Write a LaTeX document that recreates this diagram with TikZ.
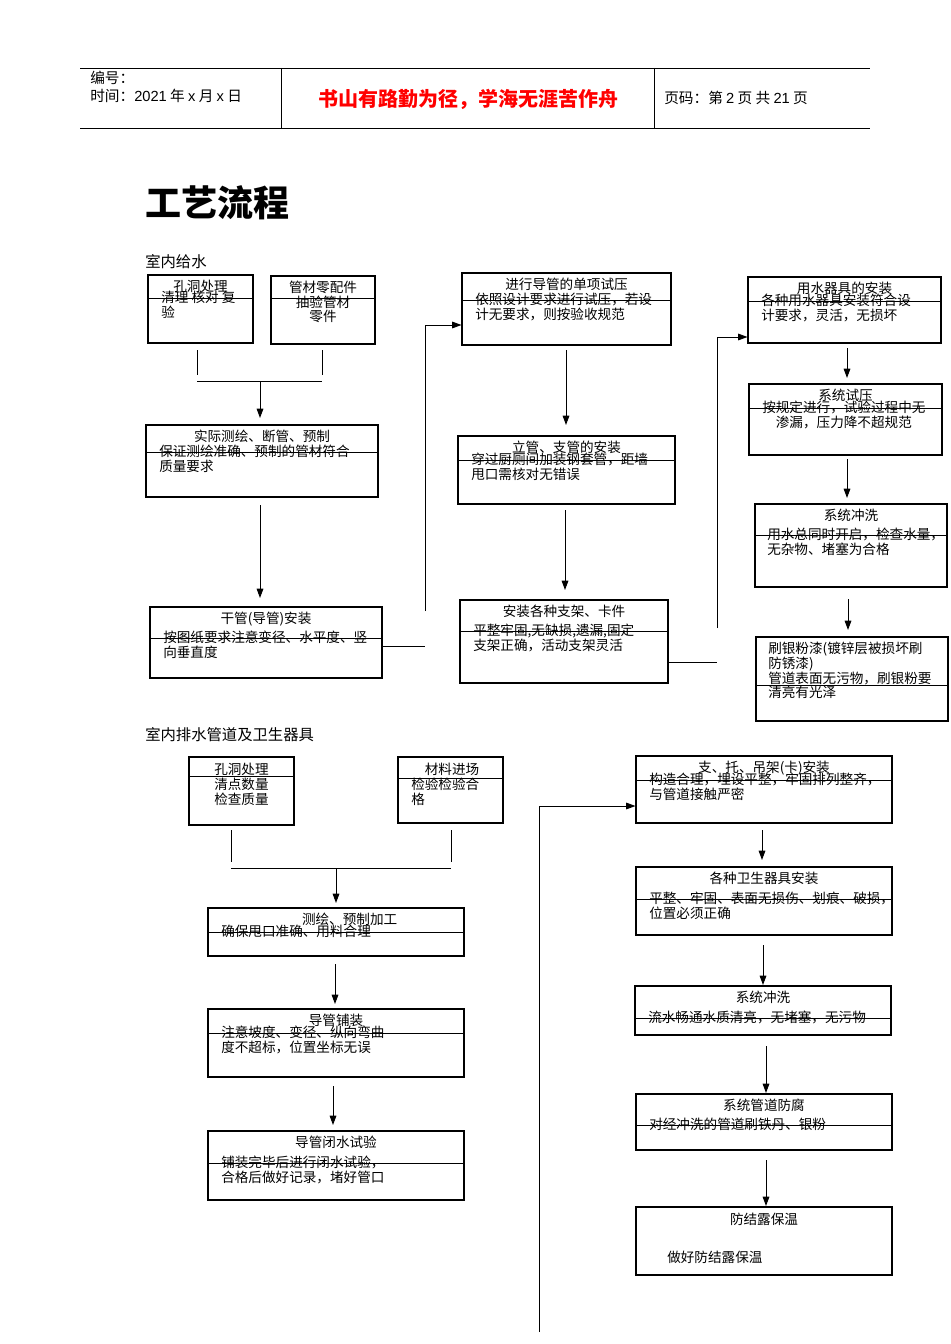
\documentclass[tikz,border=0pt]{standalone}
\usepackage{fontspec}
\setmainfont{Noto Sans CJK SC}
\newfontfamily\hdfont{Liberation Sans}
\usetikzlibrary{fit,arrows.meta}
\tikzset{
  boxst/.style={draw,line width=0.8pt,inner sep=0pt},
  txt/.style={inner sep=0pt,font=\fontsize{10.2}{11}\selectfont,align=left},
  arr/.style={-{Triangle[length=7pt,width=5pt]},line width=0.7pt},
  ln/.style={line width=0.7pt}
}
\newcommand\mybox[9]{%
  \node[boxst,fit={(#2,#3)(#4,#5)}] (#1) {};
  \draw[ln] (#2,#6) -- (#4,#6);
  \node[txt,anchor=north] at (#1.north) [yshift=-4pt] {#7};
  \node[txt,anchor=north west] at (#8,#6-7) {#9};
}
\begin{document}
\begin{tikzpicture}[x=0.75pt,y=-0.75pt]
\useasboundingbox (0,0) rectangle (950,1344);
% header
\draw[ln] (80,68) -- (870,68);
\draw[ln] (80,128) -- (870,128);
\draw[ln] (281,68) -- (281,128);
\draw[ln] (654,68) -- (654,128);
\node[txt,anchor=west,font=\fontsize{11}{12}\selectfont] (h1) at (90,78) {编号：};
\node[txt,anchor=west,font=\fontsize{11}{12}\selectfont] (h2) at (90,96) {时间：{\hdfont 2021} 年 {\hdfont x} 月 {\hdfont x} 日};
\node[txt,text=red,font=\fontsize{15}{16}\selectfont\bfseries] (h3) at (468,99) {书山有路勤为径，学海无涯苦作舟};
\node[txt,anchor=west,font=\fontsize{11}{12}\selectfont] (h4) at (664,98) {页码：第 {\hdfont 2} 页 共 {\hdfont 21} 页};
\node[txt,anchor=west,font=\fontsize{27}{30}\selectfont\bfseries] (t) at (145,203) {工艺流程};
\node[txt,anchor=west,font=\fontsize{11.5}{12}\selectfont] (s1) at (145,262) {室内给水};
% column A
\mybox{a1}{148}{275}{253}{343}{298}{孔洞处理}{161}{清理 核对 复\\验}
\node[boxst,fit={(271,276)(375,344)}] (a2) {};
\draw[ln] (271,298) -- (375,298);
\node[txt,anchor=north,align=center] at (a2.north) [yshift=-4pt] {管材零配件\\抽验管材\\零件};
\draw[ln] (197,350) -- (197,375);
\draw[ln] (322,350) -- (322,375);
\draw[ln] (197,381) -- (322,381);
\coordinate (j1) at (260,381);
\mybox{a3}{146}{425}{378}{497}{452}{实际测绘、断管、预制}{159}{保证测绘准确、预制的管材符合\\质量要求}
\draw[arr] (j1) -- (260,418);
\mybox{a4}{150}{607}{382}{678}{638}{干管(导管)安装}{163}{按图纸要求注意变径、水平度、竖\\向垂直度}
\draw[arr] (260,505) -- (260,598);
% column B
\mybox{b1}{462}{273}{671}{345}{300}{进行导管的单项试压}{475}{依照设计要求进行试压，若设\\计无要求，则按验收规范}
\draw[ln] (382,646) -- (425,646);
\draw[arr] (425,611) -- (425,325) -- (b1.west |- 0,325);
\mybox{b2}{458}{436}{675}{504}{460}{立管、支管的安装}{471}{穿过厨厕间加装钢套管，距墙\\甩口需核对无错误}
\draw[arr] (566,350) -- (566,425);
\mybox{b3}{460}{600}{668}{683}{631}{安装各种支架、卡件}{473}{平整牢固,无缺损,遗漏,固定\\支架正确，活动支架灵活}
\draw[arr] (565,510) -- (565,590);
% column C
\mybox{c1}{748}{277}{941}{343}{301}{用水器具的安装}{761}{各种用水器具安装符合设\\计要求，灵活，无损坏}
\draw[ln] (668,662) -- (717,662);
\draw[arr] (717,628) -- (717,337) -- (c1.west |- 0,337);
\mybox{c2}{749}{384}{942}{455}{408}{系统试压}{762}{按规定进行，试验过程中无\\\hspace*{1em}渗漏，压力降不超规范}
\draw[arr] (847,348) -- (847,378);
\mybox{c3}{755}{504}{947}{587}{535}{系统冲洗}{767}{用水总同时开启，检查水量，\\无杂物、堵塞为合格}
\draw[arr] (847,459) -- (847,498);
\node[boxst,fit={(756,637)(948,721)}] (c4) {};
\draw[ln] (756,685) -- (948,685);
\node[txt,anchor=north west] at (768,642) {刷银粉漆(镀锌层被损坏刷\\防锈漆)\\管道表面无污物，刷银粉要\\清亮有光泽};
\draw[arr] (848,599) -- (848,630);
% drainage
\node[txt,anchor=west,font=\fontsize{11.5}{12}\selectfont] (s2) at (145,735) {室内排水管道及卫生器具};
\node[boxst,fit={(189,757)(294,825)}] (d1) {};
\draw[ln] (189,776) -- (294,776);
\node[txt,anchor=north west] at (214,763) {孔洞处理\\清点数量\\检查质量};
\node[boxst,fit={(398,757)(503,823)}] (d2) {};
\draw[ln] (398,778) -- (503,778);
\node[txt,anchor=north west] at (411,763) {\hspace*{1em}材料进场\\检验检验合\\格};
\draw[ln] (231,830) -- (231,862);
\draw[ln] (451,830) -- (451,862);
\draw[ln] (231,868) -- (451,868);
\coordinate (j2) at (336,868);
\mybox{d3}{208}{908}{464}{956}{932}{\hspace*{2em}测绘、预制加工}{221}{确保甩口准确、用料合理}
\draw[arr] (j2) -- (336,903);
\mybox{d4}{208}{1009}{464}{1077}{1033}{导管铺装}{221}{注意坡度、变径、纵向弯曲\\度不超标，位置坐标无误}
\draw[arr] (335,964) -- (335,1004);
\mybox{d5}{208}{1131}{464}{1200}{1163}{导管闭水试验}{221}{铺装完毕后进行闭水试验，\\合格后做好记录，堵好管口}
\draw[arr] (333,1086) -- (333,1125);
\mybox{e1}{636}{756}{892}{823}{780}{支、托、吊架(卡)安装}{649}{构造合理，埋设平整，牢固排列整齐，\\与管道接触严密}
\draw[arr] (539,1332) -- (539,806) -- (e1.west |- 0,806);
\mybox{e2}{636}{867}{892}{935}{899}{各种卫生器具安装}{649}{平整、牢固、表面无损伤、划痕、破损，\\位置必须正确}
\draw[arr] (762,830) -- (762,860);
\mybox{e3}{635}{986}{891}{1035}{1018}{系统冲洗}{648}{流水畅通水质清亮，无堵塞，无污物}
\draw[arr] (763,945) -- (763,985);
\mybox{e4}{636}{1094}{892}{1150}{1125}{系统管道防腐}{649}{对经冲洗的管道刷铁丹、银粉}
\draw[arr] (766,1046) -- (766,1093);
\node[boxst,fit={(636,1207)(892,1275)}] (e5) {};
\node[txt,anchor=north] at (e5.north) [yshift=-5pt] {防结露保温};
\node[txt,anchor=west] at (667,1257) {做好防结露保温};
\draw[arr] (766,1160) -- (766,1206);
\end{tikzpicture}
\end{document}
